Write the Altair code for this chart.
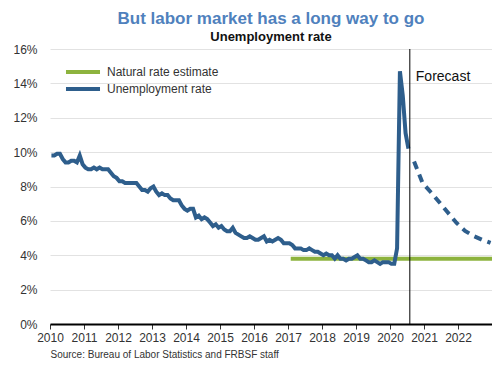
import altair as alt
import pandas as pd

# ---- data ----
u2010 = [9.8, 9.8, 9.9, 9.9, 9.6, 9.4, 9.4, 9.5, 9.5, 9.4, 9.8, 9.3]
u2011 = [9.1, 9.0, 9.0, 9.1, 9.0, 9.1, 9.0, 9.0, 9.0, 8.8, 8.6, 8.5]
u2012 = [8.3, 8.3, 8.2, 8.2, 8.2, 8.2, 8.2, 8.0, 7.8, 7.8, 7.7, 7.9]
u2013 = [8.0, 7.7, 7.5, 7.6, 7.5, 7.5, 7.3, 7.2, 7.2, 7.2, 6.9, 6.7]
u2014 = [6.6, 6.7, 6.7, 6.2, 6.3, 6.1, 6.2, 6.1, 5.9, 5.7, 5.8, 5.6]
u2015 = [5.7, 5.5, 5.4, 5.4, 5.6, 5.3, 5.2, 5.1, 5.0, 5.0, 5.1, 5.0]
u2016 = [4.9, 4.9, 5.0, 5.1, 4.8, 4.9, 4.8, 4.9, 5.0, 4.9, 4.7, 4.7]
u2017 = [4.7, 4.6, 4.4, 4.4, 4.4, 4.3, 4.3, 4.4, 4.3, 4.2, 4.2, 4.1]
u2018 = [4.0, 4.1, 4.0, 4.0, 3.8, 4.0, 3.8, 3.8, 3.7, 3.8, 3.8, 3.9]
u2019 = [4.0, 3.8, 3.8, 3.7, 3.6, 3.6, 3.7, 3.6, 3.5, 3.6, 3.6, 3.6]
u2020 = [3.5, 3.5, 4.4, 14.7, 13.3, 11.1, 10.2]

forecast_x = [2020.708, 2020.958, 2021.208, 2021.458, 2021.708,
              2021.958, 2022.208, 2022.458, 2022.708, 2022.958]
forecast_y = [9.45, 8.2, 7.65, 7.07, 6.47, 5.88, 5.42, 5.12, 4.9, 4.72]

natural_x = [2017.08, 2023.0]
natural_y = [3.8, 3.8]

forecast_start = 2020.583
year_ticks = list(range(2010, 2023))
y_ticks = [0, 2, 4, 6, 8, 10, 12, 14, 16]

BLUE = "#2e5e8c"
GREEN = "#8db33e"
FONT = "Liberation Sans"

# ---- tables ----
actual = []
for i, arr in enumerate([u2010, u2011, u2012, u2013, u2014, u2015, u2016,
                         u2017, u2018, u2019, u2020]):
    for m, v in enumerate(arr):
        actual.append({"x": 2010 + i + (m + 0.5) / 12, "y": v,
                       "series": "Unemployment rate"})
actual_df = pd.DataFrame(actual)
fc_df = pd.DataFrame({"x": forecast_x, "y": forecast_y})
nat_df = pd.DataFrame({"x": natural_x, "y": natural_y,
                       "series": "Natural rate estimate"})
rule_df = pd.DataFrame({"x": [forecast_start], "y": [0], "y2": [16]})
label_df = pd.DataFrame({"x": [forecast_start], "y": [14.35], "t": ["Forecast"]})

xscale = alt.Scale(domain=[2010, 2023], nice=False, zero=False)
yscale = alt.Scale(domain=[0, 16], nice=False, zero=True)

xaxis = alt.Axis(values=year_ticks, format="d", grid=False, domain=True,
                 domainColor="#000000", domainWidth=2, ticks=True,
                 tickColor="#333333", tickSize=5, labelFontSize=12,
                 labelColor="#333333", labelPadding=3, labelOverlap=False,
                 labelFlush=False,
                 title="Source: Bureau of Labor Statistics and FRBSF staff",
                 titleFontSize=10, titleFontWeight="normal",
                 titleColor="#333333", titleAnchor="start", titleAlign="left",
                 titlePadding=6)
yaxis = alt.Axis(values=y_ticks, labelExpr="datum.value + '%'", grid=True,
                 gridColor="#e2e2e2", domain=False, ticks=False,
                 labelFontSize=12, labelColor="#333333", labelPadding=13,
                 labelOverlap=False, title=None)

X = alt.X("x:Q", scale=xscale, axis=xaxis)
Y = alt.Y("y:Q", scale=yscale, axis=yaxis)

color = alt.Color(
    "series:N",
    scale=alt.Scale(domain=["Natural rate estimate", "Unemployment rate"],
                    range=[GREEN, BLUE]),
    legend=alt.Legend(orient="none", legendX=24, legendY=14, title=None,
                      symbolType="M-2.43,0H2.43", symbolSize=196,
                      symbolStrokeWidth=4, labelFontSize=12,
                      labelColor="#333333", labelOffset=15, rowPadding=0,
                      padding=0),
)

nat = alt.Chart(nat_df).mark_line(strokeWidth=4).encode(x=X, y=Y, color=color)
act = alt.Chart(actual_df).mark_line(strokeWidth=4).encode(x=X, y=Y, color=color)
fc = alt.Chart(fc_df).mark_line(strokeWidth=4, color=BLUE,
                                strokeDash=[8, 6]).encode(x=X, y=Y)
rule = alt.Chart(rule_df).mark_rule(color="#000000", strokeWidth=1).encode(
    x=X, y=Y, y2="y2:Q")
txt = alt.Chart(label_df).mark_text(align="left", baseline="middle", dx=6,
                                     fontSize=14, color="#111111").encode(
    x=X, y=Y, text="t:N")

chart = alt.layer(nat, act, fc, rule, txt).properties(
    width=442, height=275,
    autosize=alt.AutoSizeParams(type="none"),
    padding={"left": 42, "top": 41, "right": 0, "bottom": 41},
    title=alt.TitleParams(
        text="But labor market has a long way to go",
        subtitle="Unemployment rate",
        fontSize=17, fontWeight="bold", color="#4f81bd",
        subtitleFontSize=13, subtitleFontWeight="bold",
        subtitleColor="#111111", subtitlePadding=3,
        anchor="middle", offset=-2, font=FONT, subtitleFont=FONT,
    ),
).configure(font=FONT).configure_view(stroke=None)

chart.save("out.html", embed_options={"renderer": "svg", "actions": False})
